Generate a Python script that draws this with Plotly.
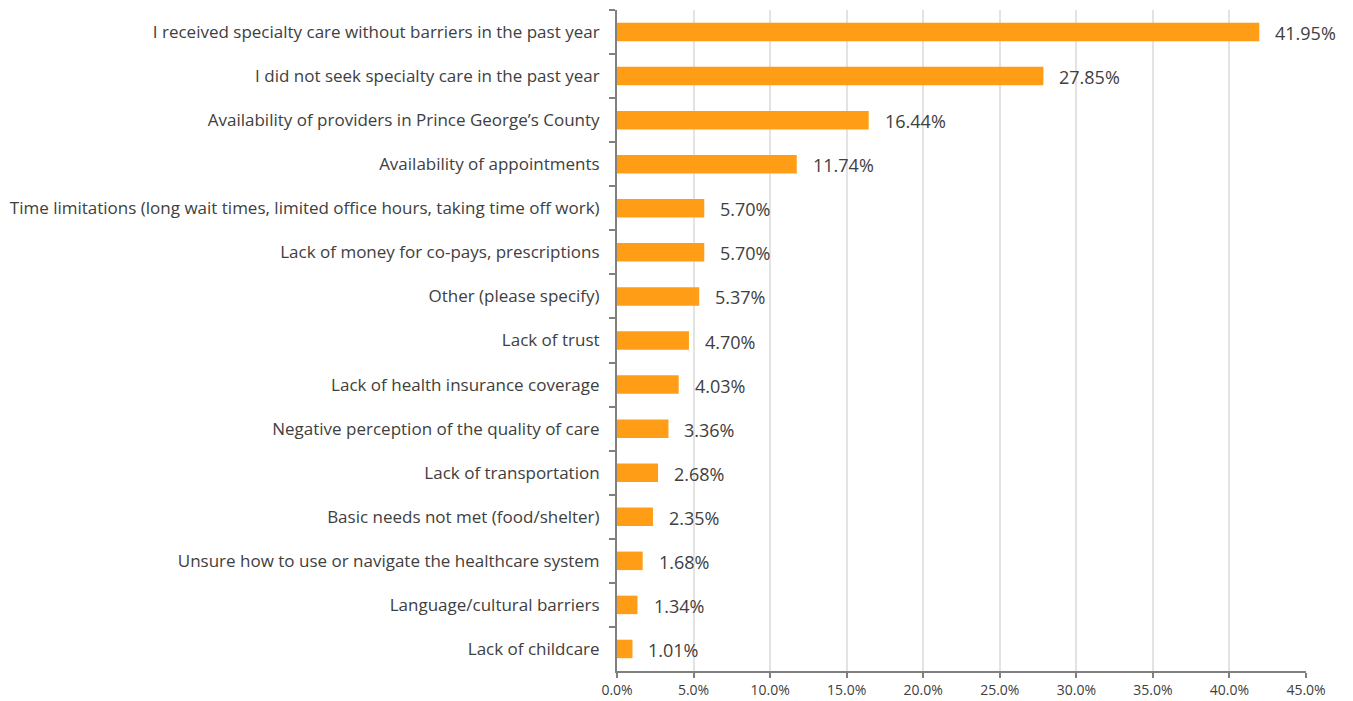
import plotly.graph_objects as go

categories = [
    "I received specialty care without barriers in the past year",
    "I did not seek specialty care in the past year",
    "Availability of providers in Prince George’s County",
    "Availability of appointments",
    "Time limitations (long wait times, limited office hours, taking time off work)",
    "Lack of money for co-pays, prescriptions",
    "Other (please specify)",
    "Lack of trust",
    "Lack of health insurance coverage",
    "Negative perception of the quality of care",
    "Lack of transportation",
    "Basic needs not met (food/shelter)",
    "Unsure how to use or navigate the healthcare system",
    "Language/cultural barriers",
    "Lack of childcare",
]
values = [41.95, 27.85, 16.44, 11.74, 5.70, 5.70, 5.37, 4.70, 4.03, 3.36, 2.68, 2.35, 1.68, 1.34, 1.01]
x_ticks = [0, 5, 10, 15, 20, 25, 30, 35, 40, 45]

FONT = "Open Sans"
TXT = "#404040"
AX = "#808080"

fig = go.Figure()
fig.add_trace(go.Bar(
    x=values, y=categories, orientation="h",
    marker=dict(color="#FF9E16", line=dict(width=0)),
    width=0.42,
    hoverinfo="x+y",
))

for c, v in zip(categories, values):
    fig.add_annotation(x=v, y=c, text=f"{v:.2f}%", showarrow=False,
                       xanchor="left", xshift=14, yshift=-1,
                       font=dict(family=FONT, size=18, color=TXT))

fig.update_layout(
    width=1353, height=701,
    margin=dict(l=617, r=47, t=10, b=30, autoexpand=False),
    plot_bgcolor="white", paper_bgcolor="white",
    showlegend=False,
    font=dict(family=FONT, color=TXT),
    bargap=0.58,
)
fig.update_xaxes(
    range=[0, 45], tickvals=x_ticks,
    ticktext=[f"{t:.1f}%" for t in x_ticks],
    showgrid=True, gridcolor="#e3e3e3", gridwidth=2,
    showline=True, linecolor=AX, linewidth=2,
    ticks="outside", ticklen=5, tickwidth=2, tickcolor=AX,
    tickfont=dict(family=FONT, size=14, color=TXT),
    zeroline=False, fixedrange=True,
)
fig.update_yaxes(
    categoryorder="array", categoryarray=categories,
    autorange="reversed",
    showline=True, linecolor=AX, linewidth=2,
    ticks="outside", ticklen=6, tickwidth=2, tickcolor=AX,
    tickson="boundaries",
    tickfont=dict(family=FONT, size=17, color=TXT),
    ticklabelstandoff=12,
    showgrid=False, zeroline=False, fixedrange=True,
)

fig.write_html("out.html", config={"displayModeBar": False},
               post_script="document.body.style.margin='0px';document.body.style.overflow='hidden';")
